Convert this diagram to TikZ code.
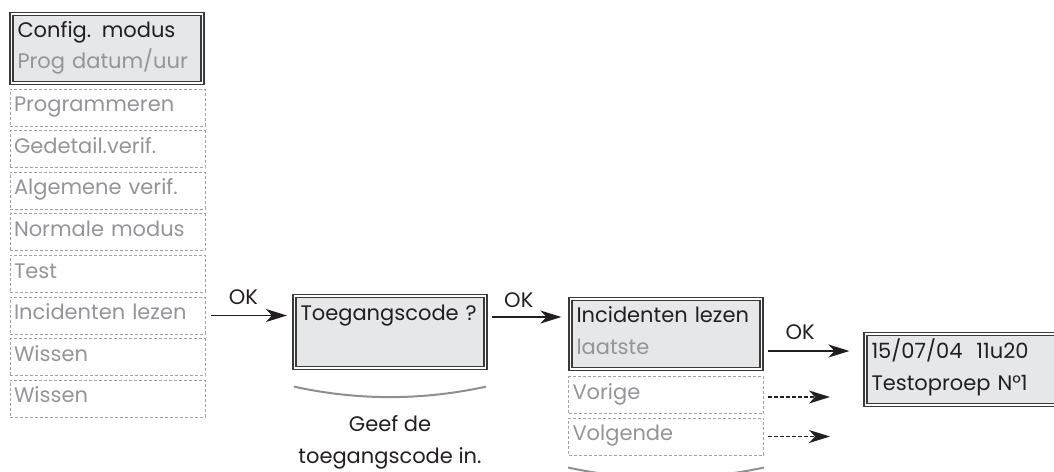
\documentclass[tikz,border=0pt]{standalone}
\usepackage{fontspec}
\setmainfont{Poppins}
\usetikzlibrary{arrows.meta,calc}
\definecolor{lcdfill}{HTML}{E6E7E8}
\definecolor{lcdline}{HTML}{3A3A3A}
\definecolor{lcdtext}{HTML}{231F20}
\definecolor{greytxt}{HTML}{939598}
\definecolor{dashgrey}{HTML}{A2A3A5}
\definecolor{arcgrey}{HTML}{8E8F91}
\newcommand\lcdstrut{\rule[-9pt]{0pt}{27pt}}
\tikzset{every node/.style={font=\fontsize{21}{32}\selectfont, text=lcdtext},
  lcdbox/.style={draw=lcdline, double=white, double distance=1.8pt, line width=1.2pt, fill=lcdfill,
    minimum width=191pt, text width=179pt, inner xsep=6pt, inner ysep=0pt, align=left},
  menuitem/.style={draw=dashgrey, line width=1pt, dash pattern=on 3pt off 2pt, text=greytxt,
    minimum width=195pt, minimum height=37pt, text width=187pt, inner xsep=4pt, inner ysep=0pt,
    align=left, text height=14pt, text depth=5.5pt},
  okarrow/.style={lcdtext, line width=1.6pt, -{Stealth[length=21pt,width=13pt,inset=6pt]}, shorten <=5.5pt},
  dasharrow/.style={lcdtext, line width=1.3pt, dash pattern=on 3.5pt off 2.5pt, -{Stealth[length=21pt,width=13pt,inset=6pt]}, shorten <=4pt},
  oklabel/.style={inner sep=0pt, text depth=0pt},
  hintarc/.style={arcgrey, line width=2pt}}
\begin{document}
\begin{tikzpicture}[x=1pt,y=-1pt]
  \useasboundingbox (0,0) rectangle (1054,471);
  \clip (0,0) rectangle (1054,471);
  \node[lcdbox,minimum height=69pt] (cfg) at (107,48.5) {\lcdstrut Config. modus\\\lcdstrut\textcolor{greytxt}{Prog datum/uur}};
  \foreach \txt [count=\i] in {Programmeren,Gedetail.verif.,Algemene verif.,Normale modus,Test,Incidenten lezen,Wissen,Wissen}
    \node[menuitem] (m\i) at (107.5,{107.5+41.6*(\i-1)}) {\txt};
  \node[lcdbox,minimum height=72pt] (code) at (390,332) {\lcdstrut Toegangscode ?\\\lcdstrut};
  \node[lcdbox,minimum height=70pt] (inc) at (666,334) {\lcdstrut Incidenten lezen\\\lcdstrut\textcolor{greytxt}{laatste}};
  \node[menuitem] (vor) at (666,395) {Vorige};
  \node[menuitem] (vol) at (666,436.5) {Volgende};
  \node[lcdbox,minimum height=71pt,minimum width=205pt,text width=193pt] (fin) at (968,369.5) {\lcdstrut 15/07/04\ \ 11u20\\\lcdstrut Testoproep N°1};
  \node[anchor=north, align=center, inner sep=0pt] (hint) at ([yshift=-45pt]code.south) {\lcdstrut Geef de\\toegangscode in.};
  \draw[okarrow, shorten >=7pt] (m6.east) -- node[oklabel, pos=0.43, above=10pt] (ok1) {OK} (m6.east -| code.west);
  \draw[okarrow, shorten >=8.5pt] ([yshift=15pt]code.east) -- node[oklabel, pos=0.39, above=9pt] (ok2) {OK} ([yshift=15pt]code.east -| inc.west);
  \draw[okarrow, shorten >=15.5pt] ([yshift=-17pt]inc.east) -- node[oklabel, pos=0.37, above=11pt] (ok3) {OK} ([yshift=-17pt]inc.east -| fin.west);
  \coordinate (vorend) at ($(vor.east)+(66,2)$);
  \coordinate (volend) at ($(vol.east)+(66,0)$);
  \draw[dasharrow] (vor.east |- vorend) -- (vorend);
  \draw[dasharrow] (vol.east) -- (volend);
  \draw[hintarc] ([yshift=-18pt]code.south west) .. controls +(64,14) and +(-64,14) .. ([yshift=-18pt]code.south east);
  \draw[hintarc] ([yshift=-12pt]vol.south west) .. controls +(64,14) and +(-64,14) .. ([yshift=-12pt]vol.south east);
\end{tikzpicture}
\end{document}
